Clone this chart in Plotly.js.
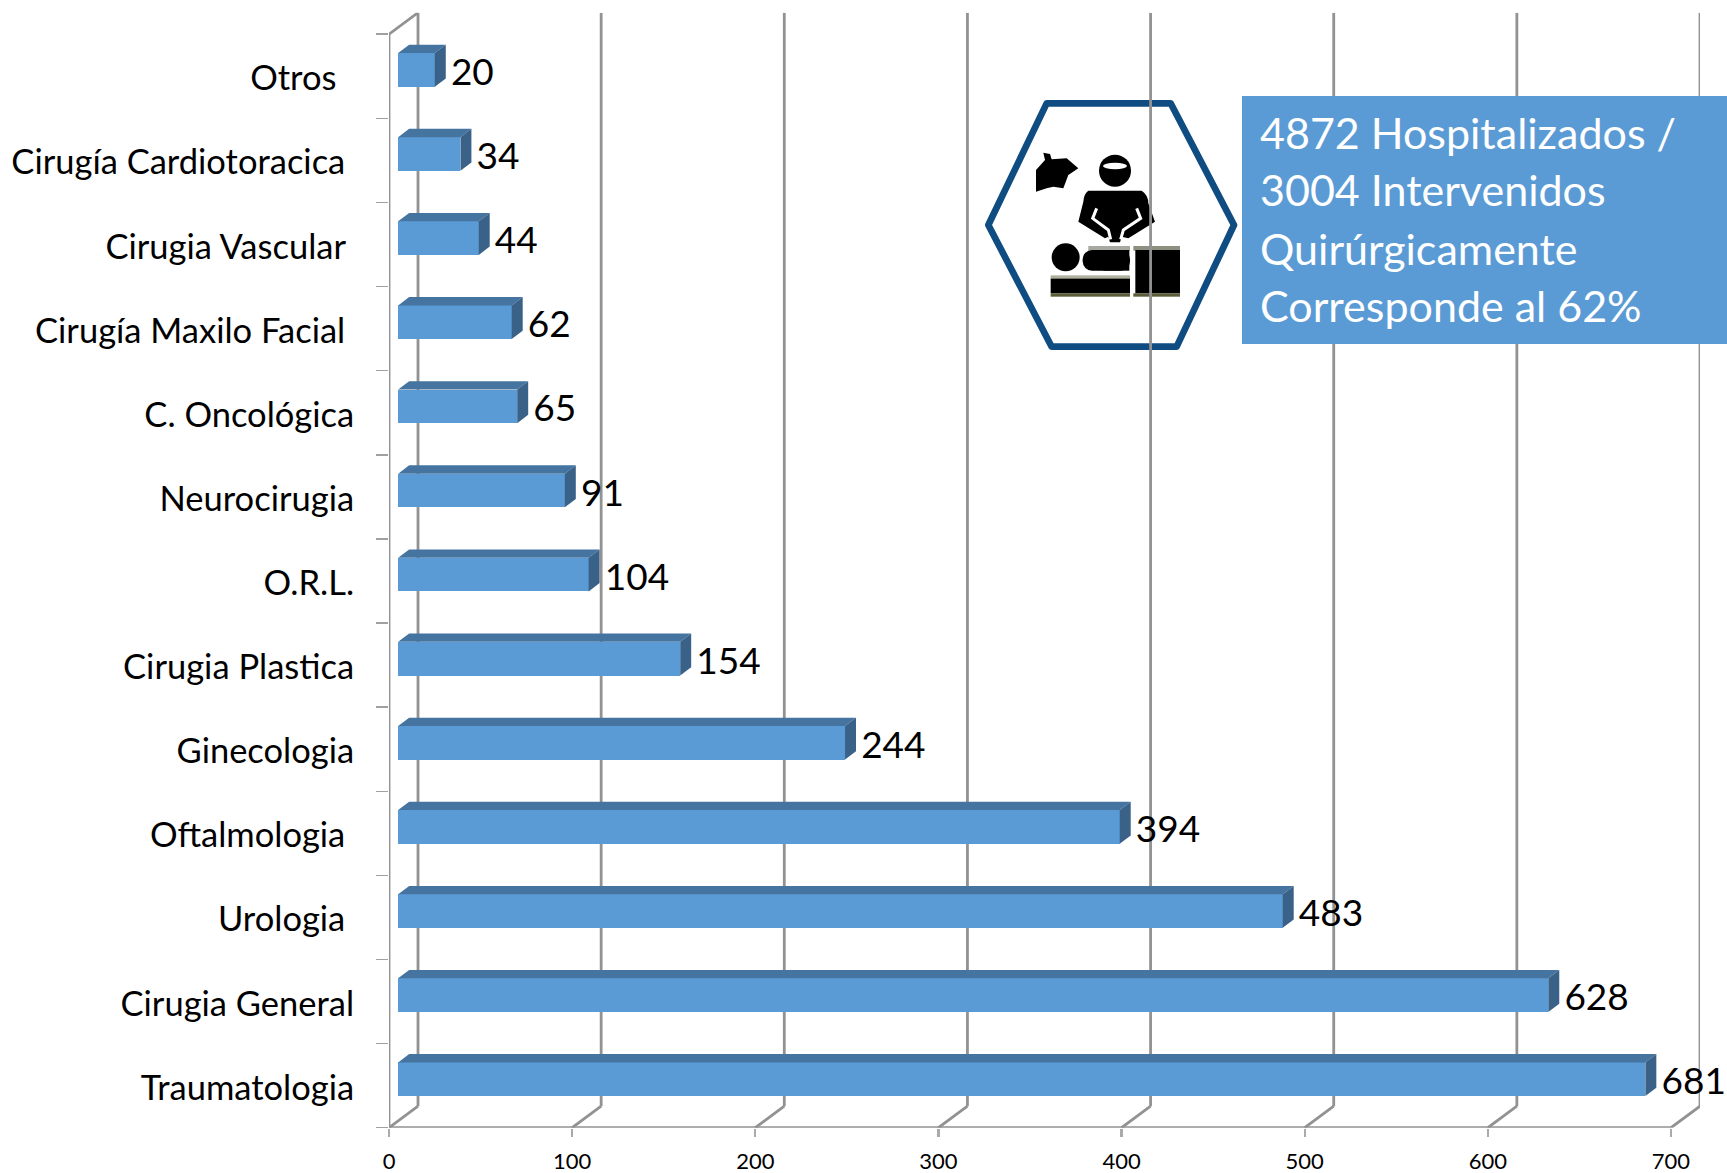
<!DOCTYPE html>
<html>
<head>
<meta charset="utf-8">
<script src="https://cdn.plot.ly/plotly-3.0.1.min.js"></script>
<style>html,body{margin:0;padding:0;background:#fff;overflow:hidden}#chart{width:1727px;height:1173px}</style>
</head>
<body>
<div id="chart"></div>
<script>
// Bottom to top, as on the axis. Trailing spaces belong to the source labels.
var categories = ["Traumatologia","Cirugia General","Urologia\u00a0","Oftalmologia\u00a0","Ginecologia","Cirugia Plastica","O.R.L.","Neurocirugia","C. Oncológica","Cirugía Maxilo Facial\u00a0","Cirugia Vascular\u00a0","Cirugía Cardiotoracica\u00a0","Otros\u00a0\u00a0"];
var values = [681,628,483,394,244,154,104,91,65,62,44,34,20];
var valueTicks = [0,100,200,300,400,500,600,700];
var boxLines = ["4872 Hospitalizados /","3004 Intervenidos","Quirúrgicamente","Corresponde al 62%"];

var W = 1727, H = 1173;
var px = function (x) { return x / W; }, py = function (y) { return 1 - y / H; };

// Pseudo-3D depth, in axis units
var wallDX = 15.84, wallDY = 0.256;   // back wall
var barDX = 5.0, barDY = 0.076;       // bar front plane
var capDX = 6.0, capDY = 0.099;       // bar depth
var barH = 0.40, labelGap = 2.8;
var xMax = 700 + wallDX, yMax = categories.length + wallDY;
var N = categories.length;
var centers = categories.map(function (_, i) { return i + 0.5; });

var gridX = [], gridY = [], floorX = [], floorY = [];
valueTicks.forEach(function (t) {
  gridX.push(t + wallDX, t + wallDX, null); gridY.push(wallDY, yMax, null);
  floorX.push(t, t + wallDX, null); floorY.push(0, wallDY, null);
});
var topX = [], topY = [], sideX = [], sideY = [];
values.forEach(function (v, i) {
  var c = centers[i] + barDY, t = c + barH / 2, b = c - barH / 2, r = barDX + v, l = barDX;
  topX.push(l, r, r + capDX, l + capDX, l, null);
  topY.push(t, t, t + capDY, t + capDY, t, null);
  sideX.push(r, r + capDX, r + capDX, r, r, null);
  sideY.push(t, t + capDY, b + capDY, b, t, null);
});

var GREY = "#929292";
function lineTrace(x, y, axes) {
  return {type: "scatter", mode: "lines", x: x, y: y, xaxis: axes[0], yaxis: axes[1],
          line: {color: GREY, width: 2.8}, hoverinfo: "skip", showlegend: false, cliponaxis: false};
}
var back = ["x", "y"];
var traces = [
  lineTrace(gridX, gridY, back),
  lineTrace(floorX, floorY, back),
  lineTrace([700, 0, 0, wallDX], [0, 0, N, N + wallDY], back),
  {type: "bar", orientation: "h", x: values, y: centers.map(function (c) { return c + barDY; }),
   base: values.map(function () { return barDX; }), width: barH, xaxis: "x2", yaxis: "y2",
   marker: {color: "#5b9bd5", line: {width: 0}}, hoverinfo: "skip", showlegend: false},
  {type: "scatter", mode: "lines", x: topX, y: topY, xaxis: "x2", yaxis: "y2", fill: "toself",
   fillcolor: "#44749f", line: {width: 0, color: "#44749f"}, hoverinfo: "skip", showlegend: false},
  {type: "scatter", mode: "lines", x: sideX, y: sideY, xaxis: "x2", yaxis: "y2", fill: "toself",
   fillcolor: "#3a6289", line: {width: 0, color: "#3a6289"}, hoverinfo: "skip", showlegend: false},
  {type: "scatter", mode: "text", x: values.map(function (v) { return v + barDX + capDX + labelGap; }),
   y: centers.map(function (c) { return c + barDY - 0.07; }), text: values.map(String),
   textposition: "middle right", textfont: {family: "Lato", size: 37, color: "#000"},
   xaxis: "x2", yaxis: "y2", hoverinfo: "skip", showlegend: false, cliponaxis: false}
];

var icon = "<svg xmlns='http://www.w3.org/2000/svg' width='320' height='280' viewBox='0 0 960 840'>" +
  "<polygon points='260,70 632,70 822,435 650,800 275,800 85,435' fill='none' stroke='#0f4c81' stroke-width='20' stroke-linejoin='round'/>" +
  "<polygon points='228,335 228,270 255,240 250,218 270,222 275,238 320,235 355,265 325,285 310,325 280,320 260,325' fill='#000'/>" +
  "<circle cx='465' cy='272' r='48' fill='#000'/><ellipse cx='465' cy='258' rx='36' ry='10' fill='#fff'/>" +
  "<path d='M385,332 L545,332 Q565,345 565,370 L585,425 L505,475 L485,470 L480,487 L450,487 L445,470 L435,475 L355,425 L370,365 Q372,340 385,332Z' fill='#000'/>" +
  "<polyline points='410,385 398,415 445,450 452,478' fill='none' stroke='#fff' stroke-width='9'/>" +
  "<polyline points='530,385 542,415 490,450 482,478' fill='none' stroke='#fff' stroke-width='9'/>" +
  "<circle cx='317' cy='532' r='42' fill='#000'/>" +
  "<rect x='385' y='498' width='125' height='14' fill='#a8a8a0'/><rect x='368' y='510' width='142' height='62' rx='28' fill='#000'/><rect x='430' y='510' width='78' height='62' fill='#000'/>" +
  "<rect x='272' y='586' width='238' height='12' fill='#b0b0a0'/><rect x='272' y='596' width='238' height='44' fill='#000'/><rect x='272' y='640' width='238' height='10' fill='#5c5c3a'/>" +
  "<rect x='520' y='498' width='140' height='14' fill='#8f8f80'/><rect x='526' y='510' width='134' height='130' fill='#000'/><rect x='520' y='640' width='140' height='10' fill='#5c5c3a'/>" +
  "</svg>";

var layout = {
  width: W, height: H, margin: {l: 0, r: 0, t: 0, b: 0}, paper_bgcolor: "#fff", plot_bgcolor: "rgba(0,0,0,0)",
  showlegend: false, bargap: 0, barmode: "overlay",
  font: {family: "Lato", color: "#000"},
  xaxis: {domain: [px(389), px(1700)], range: [0, xMax], showgrid: false, zeroline: false, showline: false,
          tickmode: "array", tickvals: valueTicks, ticks: "outside", ticklen: 8, tickwidth: 2.4, tickcolor: "#aaaaaa",
          ticklabelstandoff: 6,
          tickfont: {family: "Lato", size: 22, color: "#000"}, anchor: "y"},
  yaxis: {domain: [py(1127.7), py(12.7)], range: [0, yMax], showgrid: false, zeroline: false, showline: false,
          tickmode: "array", tickvals: centers, ticktext: categories, ticks: "outside", ticklen: 27, tickcolor: "rgba(0,0,0,0)",
          ticklabelshift: 2,
          tickfont: {family: "Lato", size: 34.5, color: "#000"}, anchor: "x",
          minor: {tickmode: "array", tickvals: centers.map(function (c) { return c - 0.5; }).concat([N]), ticks: "outside", ticklen: 12, tickwidth: 1.5, tickcolor: "#a0a0a0"}},
  xaxis2: {domain: [px(389), px(1700)], range: [0, xMax], visible: false, overlaying: "x", anchor: "y2"},
  yaxis2: {domain: [py(1127.7), py(12.7)], range: [0, yMax], visible: false, overlaying: "y", anchor: "x2"},
  images: [{source: "data:image/svg+xml;charset=utf-8," + encodeURIComponent(icon), xref: "paper", yref: "paper",
            x: px(960), y: py(80), sizex: 320 / W, sizey: 280 / H, xanchor: "left", yanchor: "top", sizing: "stretch", layer: "below"}],
  shapes: [{type: "rect", xref: "paper", yref: "paper", x0: px(1242), x1: 1, y0: py(344), y1: py(96),
            fillcolor: "#5b9bd5", line: {width: 0}, layer: "above"}],
  annotations: boxLines.map(function (t, i) {
    return {text: t, xref: "paper", yref: "paper", x: px(1258), y: py([132.3, 189.8, 248, 305][i]), xanchor: "left", yanchor: "middle",
            showarrow: false, align: "left", font: {family: "Lato", size: 43, color: "#fff"}};
  })
};
Plotly.newPlot("chart", traces, layout, {staticPlot: true, displayModeBar: false});
</script>
</body>
</html>
